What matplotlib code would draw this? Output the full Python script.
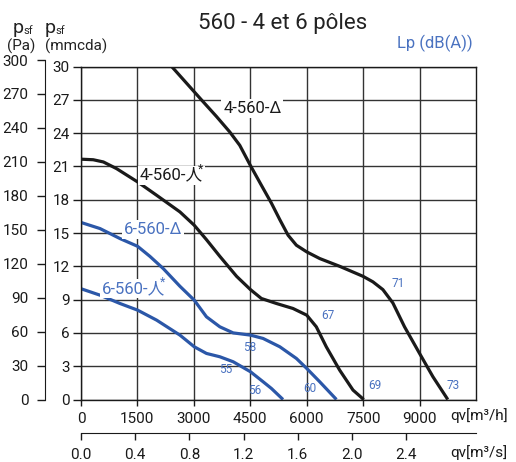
import matplotlib
matplotlib.use("Agg")
import matplotlib.pyplot as plt
from matplotlib import font_manager

# airflow qv [m3/h] vs static pressure psf [mmcda]
d4_x = [2410, 2805, 3200, 3600, 3955, 4220, 4500, 4795, 5060, 5285, 5505, 5725, 6000, 6345, 6875,
        7495, 7760, 8025, 8290, 8600, 9000, 9355, 9750]
d4_y = [30.0, 28.5, 27.0, 25.5, 24.1, 22.9, 21.1, 19.3, 17.7, 16.2, 14.8, 13.9, 13.3, 12.7, 12.0,
        11.1, 10.6, 9.9, 8.7, 6.55, 4.15, 2.05, 0.0]

y4_x = [0, 325, 595, 945, 1505, 2010, 2630, 3010, 3335, 3690, 4135, 4505, 4795, 5195, 5635, 6000,
        6255, 6520, 6875, 7230, 7515]
y4_y = [21.65, 21.6, 21.4, 20.8, 19.6, 18.4, 16.9, 15.7, 14.4, 12.9, 11.1, 9.9, 9.1, 8.65, 8.2, 7.6,
        6.55, 4.75, 2.65, 0.85, 0.0]

d6_x = [0, 505, 1035, 1505, 1830, 2185, 2630, 3010, 3335, 3690, 4045, 4505, 4840, 5285, 5725, 6000,
        6345, 6790]
d6_y = [15.95, 15.4, 14.5, 13.8, 12.9, 11.8, 10.2, 8.95, 7.45, 6.55, 6.0, 5.8, 5.5, 4.75, 3.7, 2.8,
        1.6, 0.0]

y6_x = [0, 505, 1035, 1505, 2010, 2630, 3010, 3335, 3690, 4045, 4505, 4840, 5060, 5370]
y6_y = [9.98, 9.4, 8.65, 8.05, 7.15, 5.8, 4.75, 4.15, 3.85, 3.4, 2.5, 1.6, 1.0, 0.0]

# noise levels Lp dB(A): (label, qv, psf)
noise = [("71", 8420, 10.45), ("67", 6575, 7.55), ("58", 4475, 4.7), ("55", 3845, 2.72),
         ("56", 4605, 0.8), ("60", 6085, 1.0), ("69", 7815, 1.3), ("73", 9895, 1.3)]

xticks_h = [0, 1500, 3000, 4500, 6000, 7500, 9000]
xticks_s = [0.0, 0.4, 0.8, 1.2, 1.6, 2.0, 2.4]
yticks_mm = list(range(0, 31, 3))
yticks_pa = list(range(0, 301, 30))
x_max, y_max, pa_max = 10500, 30, 300
PA_PER_MM = 9.81

names = {f.name for f in font_manager.fontManager.ttflist}
base = "Liberation Sans Narrow" if "Liberation Sans Narrow" in names else "Roboto"
plt.rcParams["font.family"] = [base, "Noto Sans CJK JP", "DejaVu Sans"]

BLACK = "#1a1a1a"
BLUE = "#2b57a8"
BLUE_TXT = "#4a72c0"
W, H = 516, 462
TICK_FS = 11


def px(x, y):
    return x / W, 1 - y / H


fig = plt.figure(figsize=(W / 100, H / 100), dpi=100)
ax = fig.add_axes([81 / W, 62.5 / H, 395 / W, 333 / H])
ax.set_xlim(0, x_max)
ax.set_ylim(0, y_max)
ax.set_xticks(xticks_h)
ax.set_yticks(yticks_mm)
ax.grid(True, color="#333333", lw=1.0)
ax.set_axisbelow(True)
ax.tick_params(axis="x", direction="out", length=4, width=1, pad=5, labelsize=TICK_FS, colors=BLACK)
ax.tick_params(axis="y", direction="out", length=6, width=1, pad=2, labelsize=TICK_FS, colors=BLACK)
for s in ax.spines.values():
    s.set_color(BLACK)
    s.set_linewidth(1.0)

ax.plot(d4_x, d4_y, color=BLACK, lw=2.3, solid_capstyle="butt", solid_joinstyle="round")
ax.plot(y4_x, y4_y, color=BLACK, lw=2.3, solid_capstyle="butt", solid_joinstyle="round")
ax.plot(d6_x, d6_y, color=BLUE, lw=2.3, solid_capstyle="butt", solid_joinstyle="round")
ax.plot(y6_x, y6_y, color=BLUE, lw=2.3, solid_capstyle="butt", solid_joinstyle="round")

box = dict(facecolor="white", edgecolor="none", pad=1.5)


def curve_label(x, y, txt, color, star=False):
    t = ax.text(x, y, txt, color=color, fontsize=12, ha="left", va="center", bbox=box)
    if star:
        ax.annotate("*", xy=(1, 1), xycoords=t, xytext=(-2, -1), textcoords="offset points",
                    ha="center", va="center", color=color, fontsize=9)
    return t


curve_label(3780, 26.2, "4-560-Δ", BLACK)
curve_label(1570, 20.2, "4-560-人", BLACK, star=True)
curve_label(1130, 15.3, "6-560-Δ", BLUE_TXT)
curve_label(550, 10.0, "6-560-人", BLUE_TXT, star=True)

for lab, qx, qy in noise:
    ax.text(qx, qy, lab, color=BLUE_TXT, fontsize=8.5, ha="center", va="center")

# second x axis in m3/s
sec = ax.secondary_xaxis(-33 / 333, functions=(lambda v: v / 3600, lambda v: v * 3600))
sec.set_xticks(xticks_s)
sec.set_xticklabels([f"{v:.1f}" for v in xticks_s])
sec.tick_params(direction="out", length=5, width=1, pad=6, labelsize=TICK_FS, colors=BLACK)
sec.spines["bottom"].set_color(BLACK)

# Pa axis, same scale as mmcda
pa = fig.add_axes([45 / W, 62.5 / H, 0.001, 333 / H * pa_max / (y_max * PA_PER_MM)])
pa.set_ylim(0, pa_max)
pa.set_yticks(yticks_pa)
pa.set_xticks([])
pa.patch.set_visible(False)
for k in ("top", "right", "bottom"):
    pa.spines[k].set_visible(False)
pa.spines["left"].set_color(BLACK)
pa.tick_params(axis="y", direction="out", length=6, width=1, pad=6, labelsize=TICK_FS, colors=BLACK)

fig.text(*px(283, 24), "560 - 4 et 6 pôles", fontsize=16, ha="center", va="center", color="#222222")
fig.text(*px(397, 43), "Lp (dB(A))", fontsize=12, ha="left", va="center", color=BLUE_TXT)
fig.text(*px(450, 416), "qv[m³/h]", fontsize=11, ha="left", va="center", color=BLACK)
fig.text(*px(450, 453), "qv[m³/s]", fontsize=11, ha="left", va="center", color=BLACK)

for x0, unit in ((7, "(Pa)"), (45, "(mmcda)")):
    xp = x0 + 6 if x0 == 7 else x0
    fig.text(*px(xp, 28), "p", fontsize=14, ha="left", va="center", color="#222222")
    fig.text(*px(xp + 10, 31), "sf", fontsize=8, ha="left", va="center", color="#222222")
    fig.text(*px(x0, 46), unit, fontsize=11, ha="left", va="center", color="#222222")

fig.savefig("out.png", dpi=100)
